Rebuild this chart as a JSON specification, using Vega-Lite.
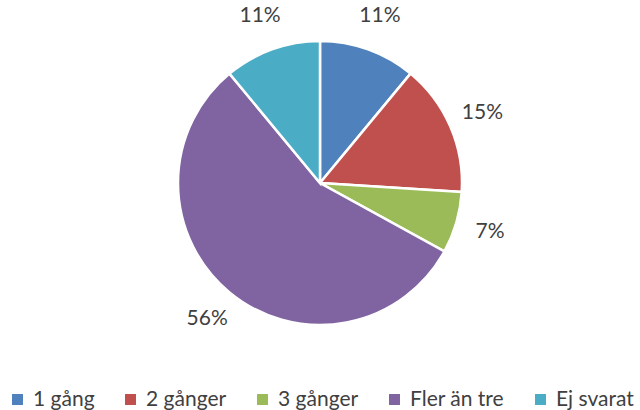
{
  "$schema": "https://vega.github.io/schema/vega-lite/v6.json",
  "width": 640,
  "height": 366,
  "autosize": {"type": "none"},
  "padding": {"top": 0, "left": 0, "right": 0, "bottom": 44},
  "background": "white",
  "config": {"view": {"stroke": null}, "font": "Lato"},
  "data": {
    "values": [
      {"kategori": "1 gång", "andel": 11, "ordning": 1, "etikett": "11%"},
      {"kategori": "2 gånger", "andel": 15, "ordning": 2, "etikett": "15%"},
      {"kategori": "3 gånger", "andel": 7, "ordning": 3, "etikett": "7%"},
      {"kategori": "Fler än tre", "andel": 56, "ordning": 4, "etikett": "56%"},
      {"kategori": "Ej svarat", "andel": 11, "ordning": 5, "etikett": "11%"}
    ]
  },
  "encoding": {
    "theta": {"field": "andel", "type": "quantitative", "stack": true},
    "order": {"field": "ordning", "type": "quantitative"}
  },
  "layer": [
    {
      "mark": {"type": "arc", "outerRadius": 142, "stroke": "white", "strokeWidth": 2.5},
      "encoding": {
        "color": {
          "field": "kategori",
          "type": "nominal",
          "sort": ["1 gång", "2 gånger", "3 gånger", "Fler än tre", "Ej svarat"],
          "scale": {
            "domain": ["1 gång", "2 gånger", "3 gånger", "Fler än tre", "Ej svarat"],
            "range": ["#4F81BD", "#C0504D", "#9BBB59", "#8064A2", "#4BACC6"]
          },
          "legend": {
            "title": null,
            "orient": "none",
            "legendX": 7,
            "legendY": 389,
            "direction": "horizontal",
            "columns": 5,
            "gridAlign": "none",
            "symbolType": "square",
            "symbolSize": 120,
            "symbolStrokeWidth": 0,
            "labelFontSize": 21,
            "labelColor": "#404040",
            "labelFont": "Lato",
            "columnPadding": 25,
            "labelOffset": 5
          }
        }
      }
    },
    {
      "mark": {"type": "text", "radius": 177, "fontSize": 21, "color": "#404040", "font": "Lato", "baseline": "middle", "align": "center"},
      "encoding": {
        "text": {"field": "etikett", "type": "nominal"}
      }
    }
  ]
}
